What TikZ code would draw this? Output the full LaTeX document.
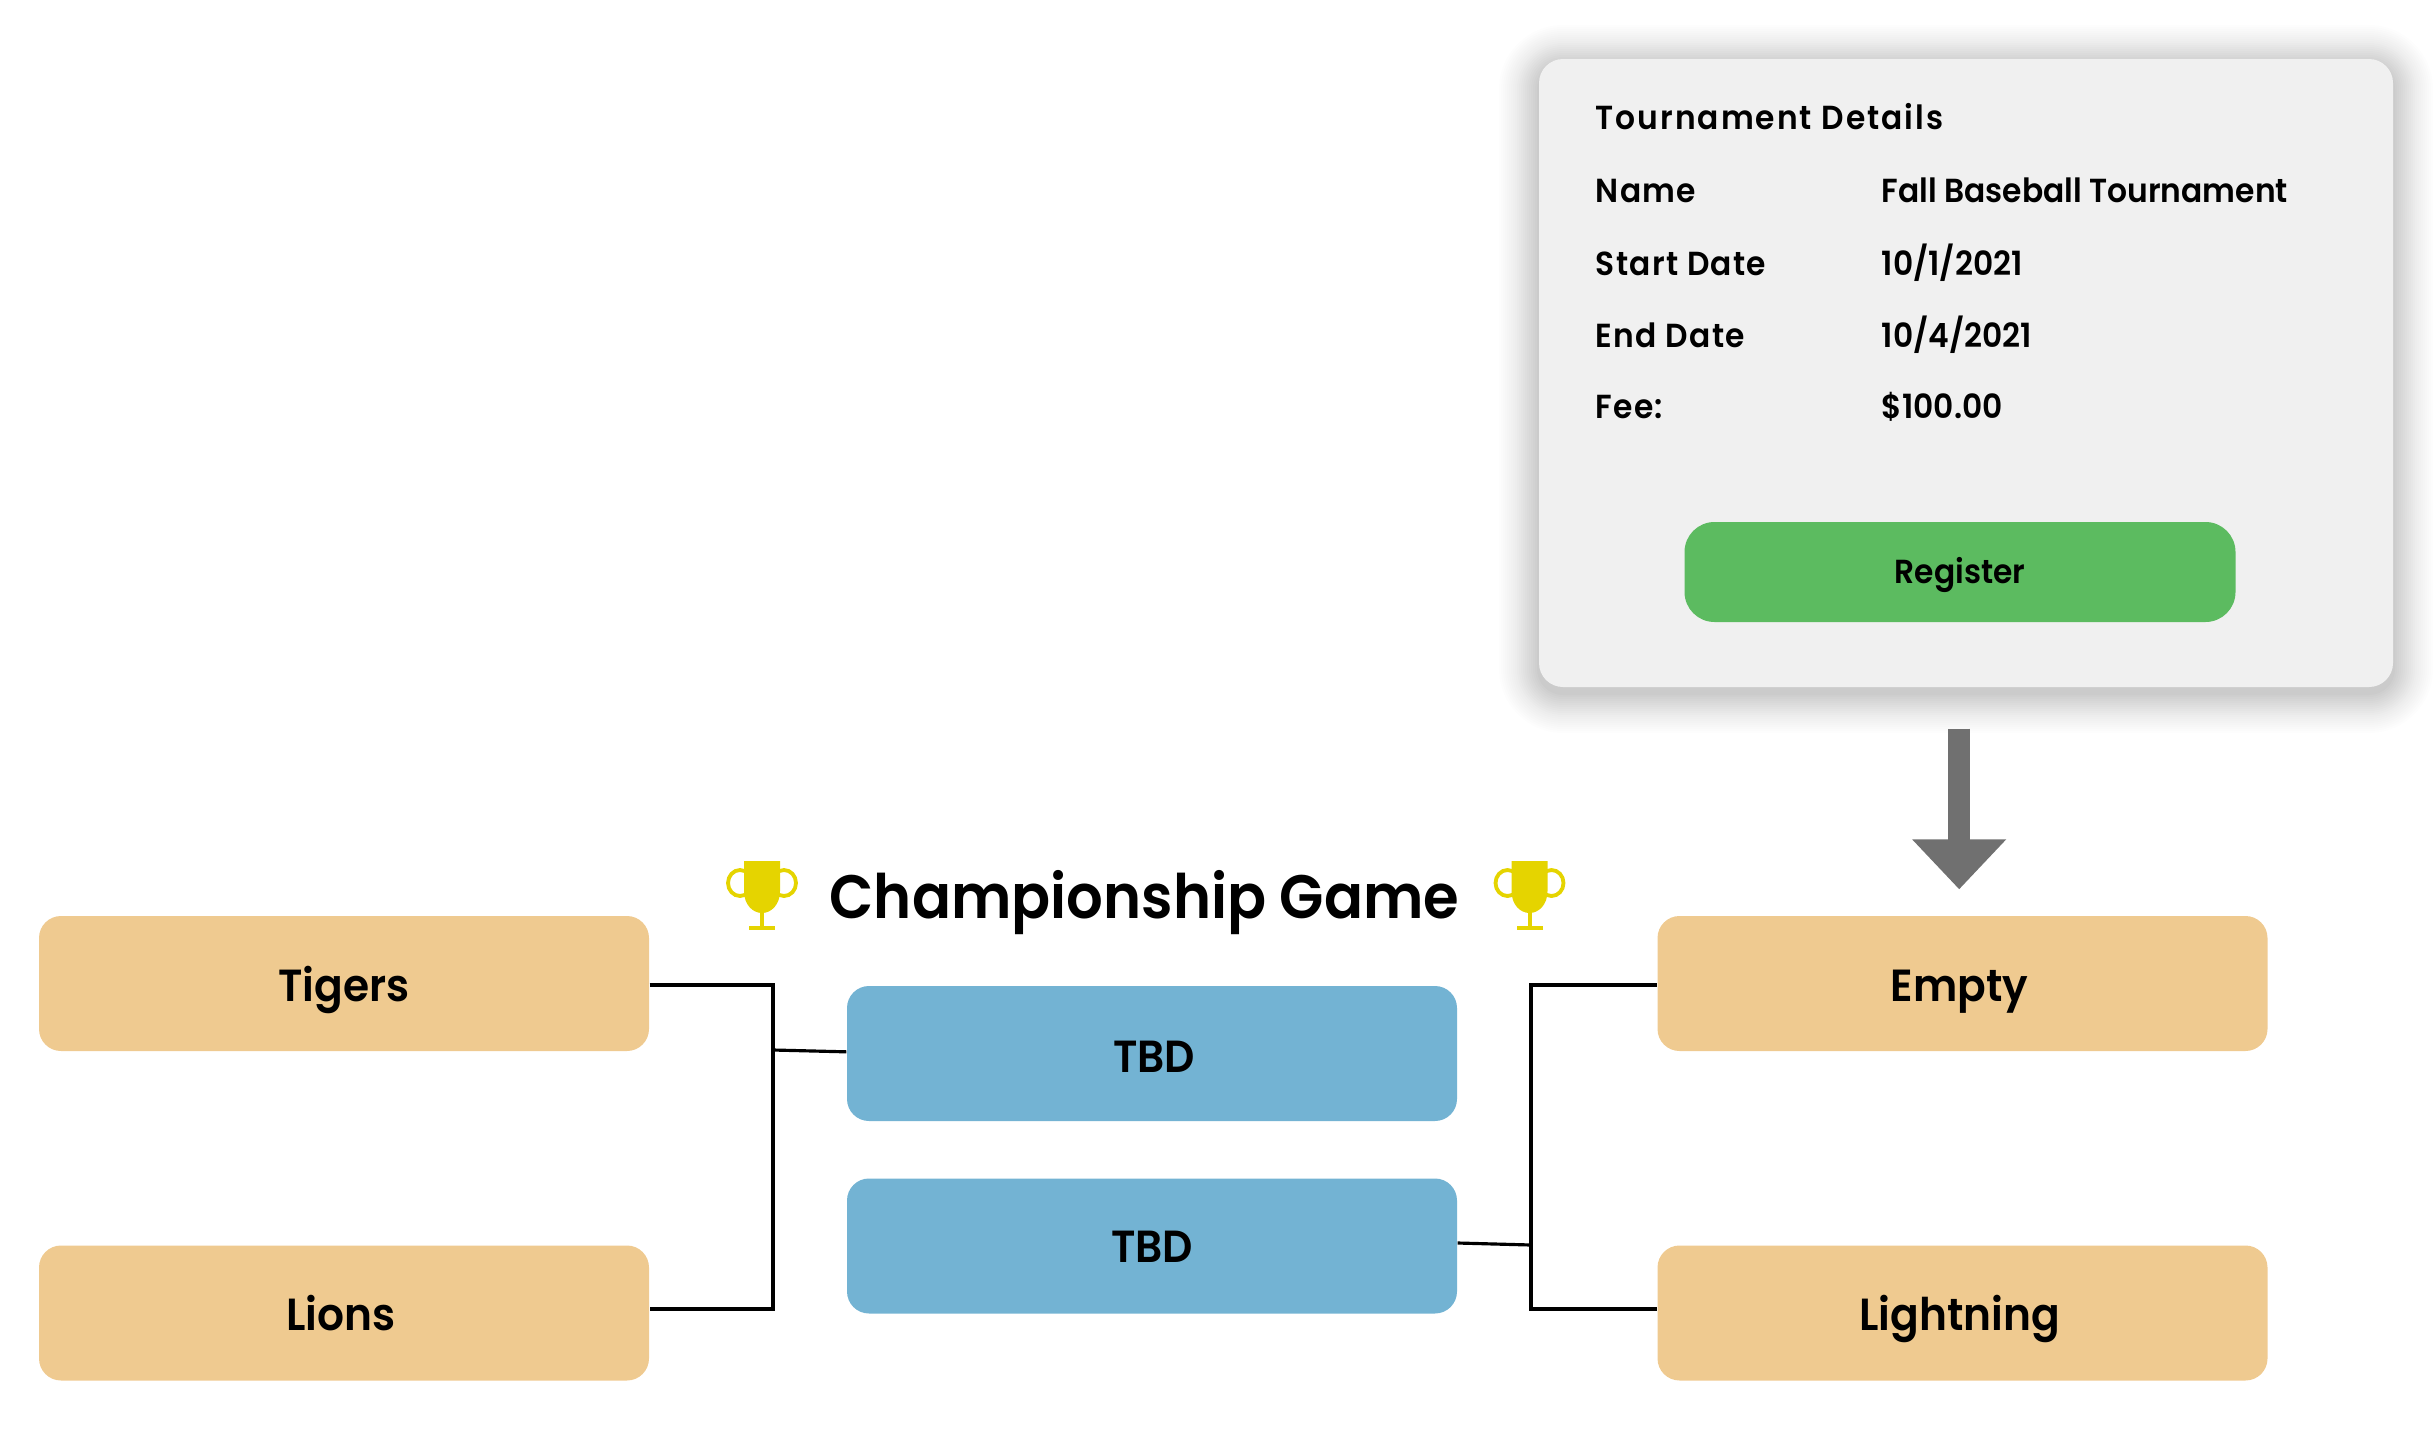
\documentclass[tikz,border=0pt]{standalone}
\usepackage{fontspec}
\setmainfont{Poppins}[UprightFont=* SemiBold, BoldFont=* SemiBold, FakeStretch=.94]
\usetikzlibrary{arrows.meta}
\usetikzlibrary{positioning}
\definecolor{teamcol}{HTML}{EFCA90}
\definecolor{tbdcol}{HTML}{73B3D3}
\definecolor{cardcol}{HTML}{F0F0F0}
\definecolor{btncol}{HTML}{5CBB60}
\definecolor{cupcol}{HTML}{E5D400}
\definecolor{arrowcol}{HTML}{707070}
\begin{document}
\begin{tikzpicture}[x=.3pt,y=-.3pt,>=Stealth,auto]
	\tikzstyle{team}=[fill=teamcol, rounded corners=6.6pt, minimum width=183pt, minimum height=40.5pt, inner sep=0pt, text height=10.6pt, text depth=0pt, font=\fontsize{13.5}{16}\selectfont]
	\tikzstyle{tbd}=[team, fill=tbdcol]
	\tikzstyle{bracket}=[line width=.95pt, line join=miter]
	\tikzstyle{detail}=[anchor=base west, inner sep=0pt, font=\fontsize{10}{12}\selectfont]
	\tikzset{trophy/.pic={
		\draw[cupcol, line width=1.15pt] (-22,22) ellipse [x radius=12, y radius=13];
		\draw[cupcol, line width=1.15pt] (22,22) ellipse [x radius=12, y radius=13];
		\fill[cupcol] (-18,0) -- (18,0) -- (18,30) .. controls (18,44) and (9,52) .. (0,52) .. controls (-9,52) and (-18,44) .. (-18,30) -- cycle;
		\fill[cupcol] (-2,50) rectangle (2,66);
		\fill[cupcol] (-13,65) rectangle (13,69);
	}}
	\useasboundingbox (0,0) rectangle (2433,1440);

	% details card
	\foreach \d in {2,4,...,40}
		\fill[black, opacity=.006+.0002*(42-\d), rounded corners=7.2pt+\d*.3pt] (1539-\d,59-\d+6) rectangle (2393+\d,687+\d+6);
	\node[fill=cardcol, rounded corners=7.2pt, minimum width=256.2pt, minimum height=188.4pt, inner sep=0pt] (card) at (1966,373) {};
	\node[detail] (title) at (1595,129) {\addfontfeature{LetterSpace=6}Tournament Details};
	\foreach \lab/\val/\ypos [count=\i] in {Name/Fall Baseball Tournament/202, Start Date/10\slash 1\slash 2021/275, End Date/10\slash 4\slash 2021/347, Fee:/\$100.00/418} {
		\node[detail] (lab\i) at (1595,\ypos) {\addfontfeature{LetterSpace=4}\lab};
		\node[detail] (val\i) at (1881,\ypos) {\val};
	}
	\node[fill=btncol, rounded corners=9pt, minimum width=165.3pt, minimum height=30pt, inner sep=0pt, text height=7pt, text depth=0pt, font=\fontsize{10}{12}\selectfont] (register) at (1960,572) {Register};

	% bracket
	\node[team] (tigers) at (344,983.5) {Tigers};
	\node[team] (lions) [below of=tigers, node distance=98.85pt] {\kern-1.8ptLions};
	\node[team] (empty) at (1962.5,983.5) {\kern-1.8ptEmpty};
	\node[team] (lightning) [below of=empty, node distance=98.85pt] {\kern-1.8ptLightning};
	\node[tbd, text height=11.4pt] (tbdA) at (1152,1053.5) {\kern1.4ptTBD};
	\node[tbd, text height=9.6pt] (tbdB) [below of=tbdA, node distance=57.75pt] {TBD};
	\node[inner sep=0pt, anchor=base, font=\fontsize{18.4}{22}\selectfont] (champ) at (1144.5,918) {Championship Game};
	\pic at (762,861) {trophy};
	\pic at (1529.5,861) {trophy};

	\coordinate (leftTop) at (773,985);
	\coordinate (leftBot) at (773,1309);
	\coordinate (leftJoin) at (773,1050);
	\coordinate (rightTop) at (1531,985);
	\coordinate (rightBot) at (1531,1309);
	\coordinate (rightJoin) at (1531,1245);
	\draw[bracket] (tigers.east |- leftTop) -- (leftTop) -- (leftBot) -- (lions.east |- leftBot);
	\draw[bracket] (empty.west |- rightTop) -- (rightTop) -- (rightBot) -- (lightning.west |- rightBot);
	\draw[bracket] (leftJoin) -- ([yshift=.5pt]tbdA.west);
	\draw[bracket] (rightJoin) -- ([yshift=.9pt]tbdB.east);
	\draw[arrowcol, line width=6.6pt, -{Triangle[length=15pt,width=27.3pt]}, shorten <=12.3pt, shorten >=7.8pt] ([xshift=-1pt]card.south -| empty.north) -- ([xshift=-1pt]empty.north);
\end{tikzpicture}
\end{document}
